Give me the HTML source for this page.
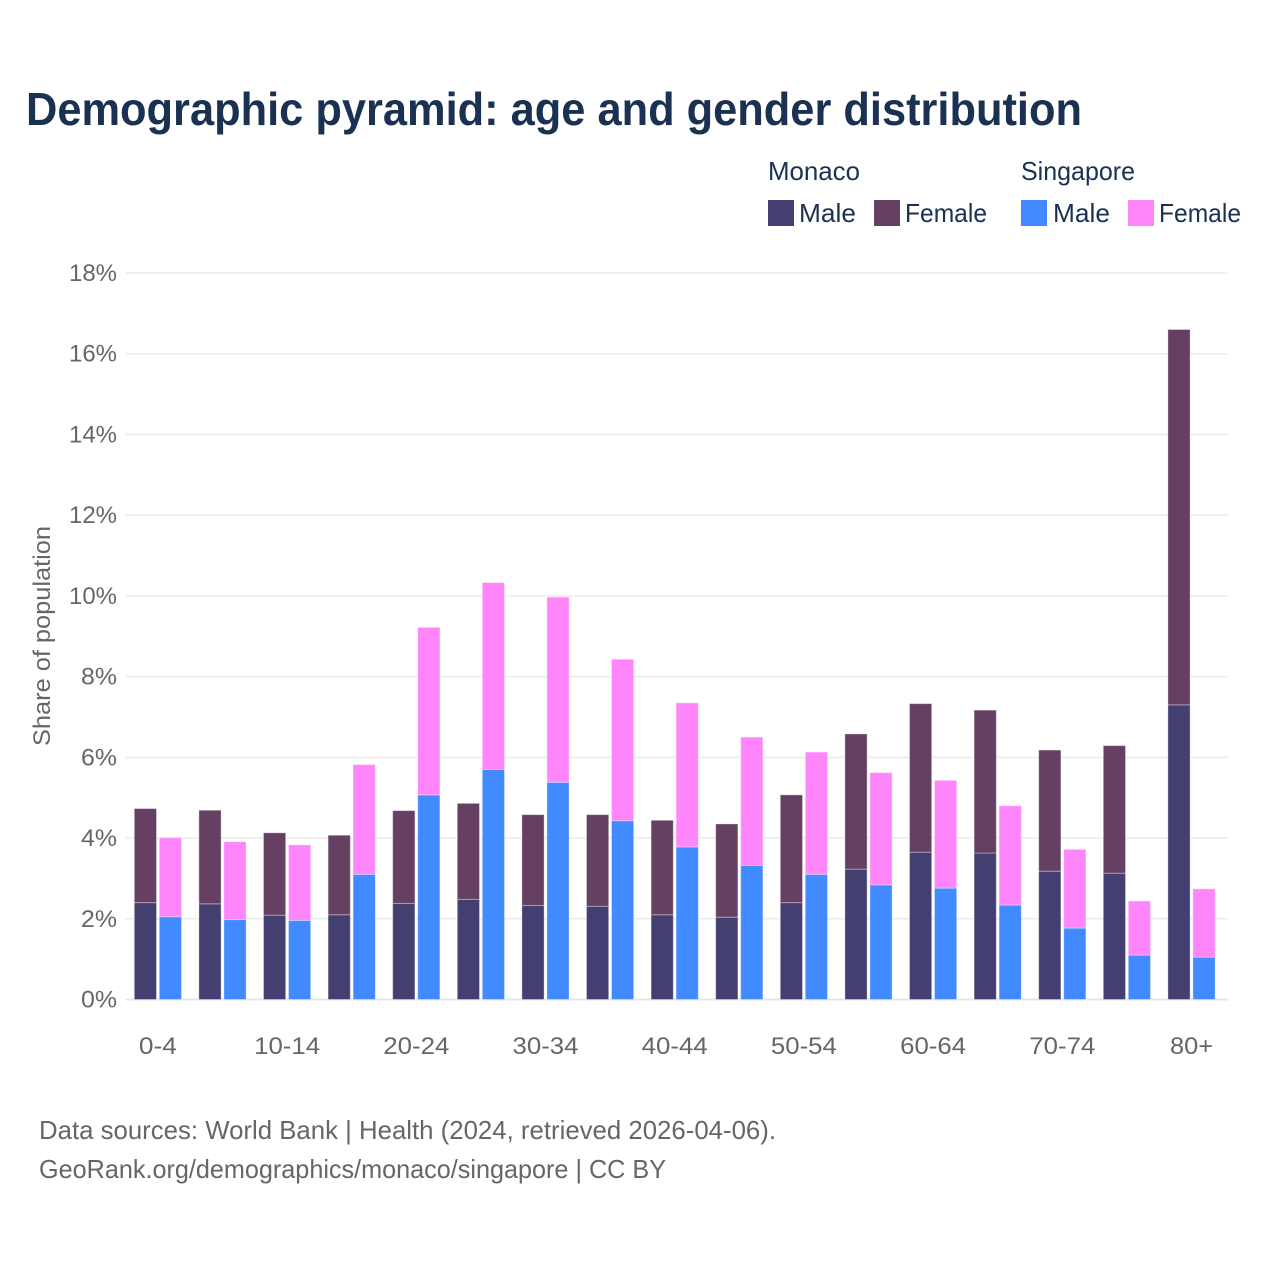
<!DOCTYPE html>
<html>
<head>
<meta charset="utf-8">
<title>Demographic pyramid</title>
<style>
html,body{margin:0;padding:0;background:#fff;width:1280px;height:1280px;overflow:hidden}
svg{display:block}
text{font-family:"Liberation Sans",sans-serif}
</style>
</head>
<body>
<svg id="chart" xmlns="http://www.w3.org/2000/svg" width="1280" height="1280" viewBox="0 0 1280 1280">
  <rect width="1280" height="1280" fill="#ffffff"/>
  <text x="26" y="125" font-size="46" font-weight="700" fill="#1a3152" textLength="1056" lengthAdjust="spacingAndGlyphs">Demographic pyramid: age and gender distribution</text>

  <g font-size="26" fill="#1a3152">
    <text x="768" y="180" textLength="92" lengthAdjust="spacingAndGlyphs">Monaco</text>
    <text x="1021" y="180" textLength="114" lengthAdjust="spacingAndGlyphs">Singapore</text>
    <rect x="768" y="200" width="26" height="26" fill="#433f70"/>
    <text x="799" y="222" textLength="57" lengthAdjust="spacingAndGlyphs">Male</text>
    <rect x="874" y="200" width="26" height="26" fill="#664062"/>
    <text x="905" y="222" textLength="82" lengthAdjust="spacingAndGlyphs">Female</text>
    <rect x="1021" y="200" width="26" height="26" fill="#418aff"/>
    <text x="1053" y="222" textLength="57" lengthAdjust="spacingAndGlyphs">Male</text>
    <rect x="1128" y="200" width="26" height="26" fill="#ff85fb"/>
    <text x="1159" y="222" textLength="82" lengthAdjust="spacingAndGlyphs">Female</text>
  </g>

  <g id="grid"></g>
  <g id="yticks"></g>
  <g id="bars"></g>
  <g id="xticks"></g>

  <text transform="translate(50,636) rotate(-90)" text-anchor="middle" font-size="24" fill="#666666" textLength="220" lengthAdjust="spacingAndGlyphs">Share of population</text>

  <text x="39" y="1139" font-size="26" fill="#666666" textLength="737" lengthAdjust="spacingAndGlyphs">Data sources: World Bank | Health (2024, retrieved 2026-04-06).</text>
  <text x="39" y="1178" font-size="26" fill="#666666" textLength="627" lengthAdjust="spacingAndGlyphs">GeoRank.org/demographics/monaco/singapore | CC BY</text>
</svg>
<script>
const ageGroups = ["0-4","5-9","10-14","15-19","20-24","25-29","30-34","35-39","40-44","45-49","50-54","55-59","60-64","65-69","70-74","75-79","80+"];
const monacoMale = [2.40,2.37,2.09,2.10,2.38,2.48,2.33,2.31,2.10,2.04,2.40,3.23,3.65,3.63,3.18,3.13,7.30];
const monacoFemale = [2.33,2.32,2.04,1.97,2.30,2.38,2.25,2.27,2.34,2.31,2.67,3.35,3.68,3.54,3.00,3.16,9.30];
const singaporeMale = [2.05,1.98,1.96,3.10,5.07,5.70,5.38,4.43,3.78,3.32,3.10,2.84,2.76,2.34,1.77,1.10,1.05];
const singaporeFemale = [1.96,1.93,1.87,2.72,4.15,4.63,4.59,4.00,3.57,3.18,3.03,2.78,2.67,2.46,1.95,1.34,1.69];
const yTicks = [0,2,4,6,8,10,12,14,16,18];
const xTickLabels = ["0-4","10-14","20-24","30-34","40-44","50-54","60-64","70-74","80+"];

const SVG_NS = "http://www.w3.org/2000/svg";
const plot = { left: 125.5, right: 1228, top: 273, bottom: 999.5, yMax: 18, step: 64.6, barW: 22.2, gap: 2.8 };
function yScale(v) { return plot.bottom - (v / plot.yMax) * (plot.bottom - plot.top); }
function groupStart(i) { return 134.3 + i * plot.step; }
function make(tag, attrs, parent) {
  const el = document.createElementNS(SVG_NS, tag);
  for (const k in attrs) el.setAttribute(k, attrs[k]);
  parent.appendChild(el);
  return el;
}

const gridG = document.getElementById("grid");
const yG = document.getElementById("yticks");
yTicks.forEach(function (t) {
  const line = make("line", { x1: plot.left, x2: plot.right, y1: yScale(t), y2: yScale(t), stroke: t === 0 ? "#e6e6e6" : "#ebebeb", "stroke-width": t === 0 ? 2 : 1.5 }, gridG);
  
  
  const label = make("text", { x: 117, y: yScale(t) + 8, "text-anchor": "end", "font-size": 24, fill: "#666666", textLength: (String(t).length > 1 ? 48 : 36), lengthAdjust: "spacingAndGlyphs" }, yG);
  label.textContent = t + "%";
  
  
});

const barsG = document.getElementById("bars");
function stacked(x, base, value, fill, name) {
  const y1 = yScale(base), y2 = yScale(base + value);
  const r = make("rect", { x: x, y: y2, width: plot.barW, height: y1 - y2, fill: fill, stroke: "#ffffff", "stroke-opacity": 0.35, "stroke-width": 1 }, barsG);
  
  
}
ageGroups.forEach(function (age, i) {
  const x0 = groupStart(i);
  const x1 = x0 + plot.barW + plot.gap;
  stacked(x0, 0, monacoMale[i], "#433f70", "bar-monaco-male");
  stacked(x0, monacoMale[i], monacoFemale[i], "#664062", "bar-monaco-female");
  stacked(x1, 0, singaporeMale[i], "#418aff", "bar-singapore-male");
  stacked(x1, singaporeMale[i], singaporeFemale[i], "#ff85fb", "bar-singapore-female");
});

const xG = document.getElementById("xticks");
xTickLabels.forEach(function (lab) {
  const i = ageGroups.indexOf(lab);
  const cx = groupStart(i) + plot.barW + plot.gap / 2;
  const t = make("text", { x: cx, y: 1054, "text-anchor": "middle", "font-size": 24, fill: "#666666", textLength: lab.length === 3 && lab !== "0-4" ? 43 : (lab === "0-4" ? 38 : 66), lengthAdjust: "spacingAndGlyphs" }, xG);
  t.textContent = lab;
  
  
});
</script>
</body>
</html>
